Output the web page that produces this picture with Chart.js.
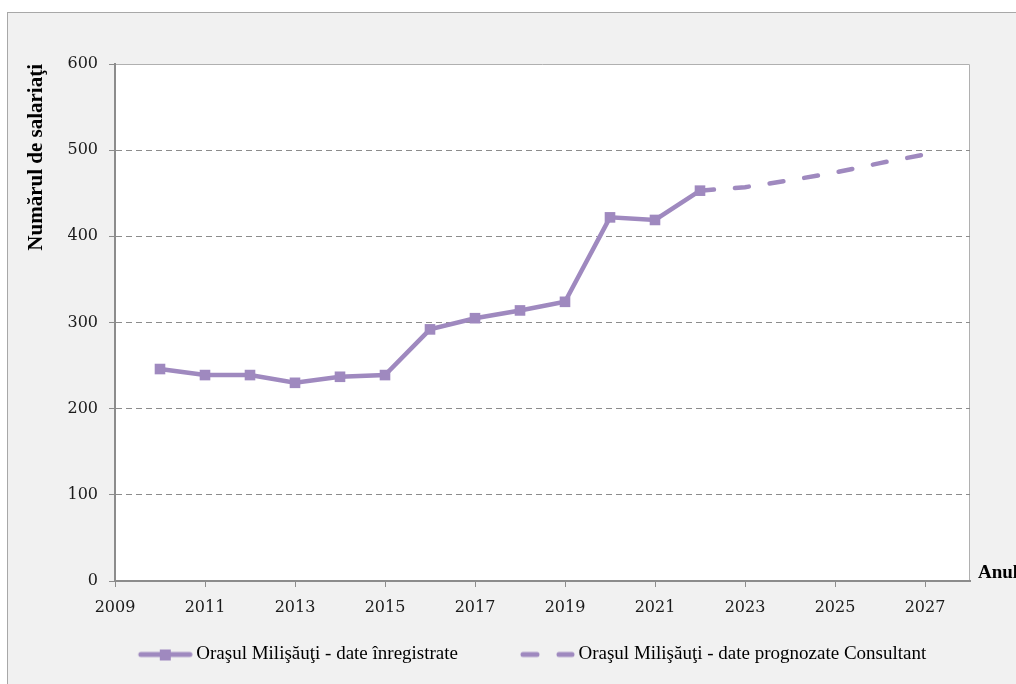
<!DOCTYPE html>
<html>
<head>
<meta charset="utf-8">
<script src="https://cdn.jsdelivr.net/npm/chart.js@4/dist/chart.umd.min.js"></script>
<style>
    html, body { margin: 0; padding: 0; background: #fff; }
</style>
</head>
<body>
<canvas id="chart" width="1016" height="684"></canvas>
<script>
const recordedYears = [2010, 2011, 2012, 2013, 2014, 2015, 2016, 2017, 2018, 2019, 2020, 2021, 2022];
const recordedValues = [246, 239, 239, 230, 237, 239, 292, 305, 314, 324, 422, 419, 453];
const forecastYears = [2022, 2023, 2024, 2025, 2026, 2027];
const forecastValues = [453, 457, 465, 474, 485, 495];
const xTicks = [2009, 2011, 2013, 2015, 2017, 2019, 2021, 2023, 2025, 2027];
const seriesNames = ["Oraşul Milişăuţi - date înregistrate", "Oraşul Milişăuţi - date prognozate Consultant"];

const purple = "#9f89bf";
const gray = "#8c8c8c";
const serif = "'Liberation Serif', serif";
const tickFont = { family: "'DejaVu Serif', serif", size: 16 };

// legend samples: line + square, and dashed line
const boxW = 101;
function legendSample(dashed) {
    const c = document.createElement("canvas");
    c.width = boxW + 12;
    c.height = 16;
    const g = c.getContext("2d");
    const x0 = c.width - 55;
    g.strokeStyle = purple;
    g.lineWidth = 5;
    g.lineCap = "round";
    if (dashed) {
        g.setLineDash([14, 22]);
    }
    g.beginPath();
    g.moveTo(x0 + 3, 8);
    g.lineTo(c.width - 3, 8);
    g.stroke();
    if (!dashed) {
        g.fillStyle = purple;
        g.fillRect(x0 + 22, 3, 11, 11);
    }
    return c;
}

const frame = {
    id: "frame",
    beforeDraw(chart) {
        const { ctx, chartArea: a } = chart;
        ctx.save();
        ctx.fillStyle = "#f1f1f1";
        ctx.fillRect(7, 12, chart.width, chart.height);
        ctx.strokeStyle = "#a8a8a8";
        ctx.lineWidth = 1;
        ctx.strokeRect(7.5, 12.5, chart.width, chart.height);
        ctx.fillStyle = "#fff";
        ctx.fillRect(a.left, a.top, a.right - a.left, a.bottom - a.top);
        ctx.strokeStyle = "#b0b0b0";
        ctx.beginPath();
        ctx.moveTo(a.left, a.top + 0.5);
        ctx.lineTo(a.right - 0.5, a.top + 0.5);
        ctx.lineTo(a.right - 0.5, a.bottom);
        ctx.stroke();
        ctx.restore();
    },
    afterDraw(chart) {
        const { ctx, chartArea: a } = chart;
        ctx.save();
        ctx.font = "bold 19px " + serif;
        ctx.fillStyle = "#000";
        ctx.textBaseline = "alphabetic";
        ctx.fillText("Anul", a.right + 8, a.bottom - 3);
        ctx.restore();
    }
};

new Chart(document.getElementById("chart"), {
    type: "line",
    data: {
        datasets: [{
            label: seriesNames[0],
            data: recordedYears.map((x, i) => ({ x: x, y: recordedValues[i] })),
            borderColor: purple,
            backgroundColor: purple,
            borderWidth: 4.5,
            pointStyle: "rect",
            pointRadius: 7.5,
            pointHoverRadius: 7.5,
            pointBorderWidth: 0,
            tension: 0
        }, {
            label: seriesNames[1],
            data: forecastYears.map((x, i) => ({ x: x, y: forecastValues[i] })),
            borderColor: purple,
            borderWidth: 4.5,
            borderDash: [14, 21],
            borderCapStyle: "round",
            pointRadius: 0,
            tension: 0
        }]
    },
    options: {
        responsive: false,
        animation: false,
        layout: { padding: { left: 42, right: 46, top: 64, bottom: 10 } },
        plugins: {
            tooltip: { enabled: false },
            legend: {
                position: "bottom",
                labels: {
                    usePointStyle: true,
                    pointStyleWidth: boxW,
                    padding: 10,
                    color: "#1a1a1a",
                    font: { family: serif, size: 19 },
                    generateLabels: () => [
                        { text: seriesNames[0], pointStyle: legendSample(false), datasetIndex: 0, hidden: false, lineWidth: 0 },
                        { text: seriesNames[1], pointStyle: legendSample(true), datasetIndex: 1, hidden: false, lineWidth: 0 }
                    ]
                }
            }
        },
        scales: {
            x: {
                type: "linear",
                min: 2009,
                max: 2028,
                afterBuildTicks: s => { s.ticks = xTicks.map(v => ({ value: v })); },
                afterFit: s => { s.height = 54; },
                ticks: {
                    autoSkip: false,
                    maxRotation: 0,
                    padding: 11,
                    color: "#1a1a1a",
                    font: tickFont,
                    callback: v => String(v)
                },
                grid: { drawOnChartArea: false, tickLength: 6, color: gray },
                border: { color: gray, width: 2 }
            },
            y: {
                min: 0,
                max: 600,
                afterFit: s => { s.width = 73; },
                ticks: {
                    stepSize: 100,
                    padding: 11,
                    color: "#1a1a1a",
                    font: tickFont
                },
                grid: {
                    tickLength: 6,
                    color: c => (c.tick.value === 0 || c.tick.value === 600) ? "rgba(0,0,0,0)" : gray,
                    tickColor: gray
                },
                border: { color: gray, width: 2, dash: [6, 4] },
                title: {
                    display: true,
                    text: "Numărul de salariaţi",
                    align: "end",
                    color: "#000",
                    font: { family: serif, size: 21, weight: "bold" },
                    padding: { top: -18, bottom: 0 }
                }
            }
        }
    },
    plugins: [frame]
});
</script>
</body>
</html>
